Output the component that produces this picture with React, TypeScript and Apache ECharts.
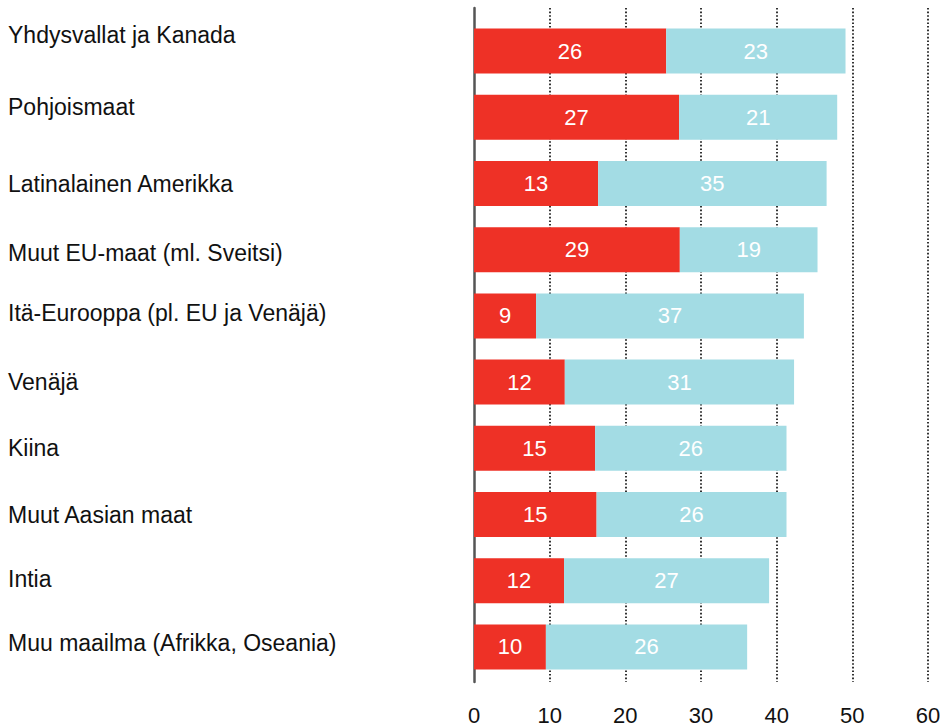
import React, { useEffect, useRef } from "react";
import * as echarts from "echarts";

// Categories (top to bottom)
const categories = [
  "Yhdysvallat ja Kanada",
  "Pohjoismaat",
  "Latinalainen Amerikka",
  "Muut EU-maat (ml. Sveitsi)",
  "Itä-Eurooppa (pl. EU ja Venäjä)",
  "Venäjä",
  "Kiina",
  "Muut Aasian maat",
  "Intia",
  "Muu maailma (Afrikka, Oseania)",
];

// Bar lengths as drawn in the picture
const redBars = [25.4, 27.1, 16.4, 27.2, 8.2, 12.0, 16.0, 16.2, 11.9, 9.5];
const blueBars = [23.7, 20.9, 30.2, 18.2, 35.4, 30.3, 25.3, 25.1, 27.1, 26.6];

// Numbers printed on the bars
const redLabels = [26, 27, 13, 29, 9, 12, 15, 15, 12, 10];
const blueLabels = [23, 21, 35, 19, 37, 31, 26, 26, 27, 26];

// Axis ticks
const xMin = 0;
const xMax = 60;
const xStep = 10;

// Style: vertical nudge (px, positive = up) of each category label
const labelNudge = [16, 10, 0, -3, 3, 0, 0, 0, 2, 4];

const FONT = "'Liberation Sans', Arial, Helvetica, sans-serif";
const RED = "#EE3126";
const BLUE = "#A3DCE4";

export default function App() {
  const ref = useRef<HTMLDivElement>(null);

  useEffect(() => {
    if (!ref.current) return;
    const chart = echarts.init(ref.current, null, { renderer: "svg" });

    const rich: Record<string, any> = {};
    labelNudge.forEach((n, i) => {
      rich["r" + i] = {
        fontSize: 23,
        fontFamily: FONT,
        color: "#111",
        padding: n >= 0 ? [0, 0, 2 * n, 0] : [-2 * n, 0, 0, 0],
      };
    });

    chart.setOption({
      animation: false,
      backgroundColor: "#ffffff",
      grid: [
        {
          left: 474,
          right: 15,
          top: 18,
          height: 662,
          containLabel: false,
          outerBoundsMode: "none",
        },
        {
          left: 474,
          right: 15,
          top: 8,
          height: 674,
          containLabel: false,
          outerBoundsMode: "none",
        },
      ],
      xAxis: [
        {
          type: "value",
          gridIndex: 0,
          min: xMin,
          max: xMax,
          interval: xStep,
          show: false,
        },
        {
          type: "value",
          gridIndex: 1,
          min: xMin,
          max: xMax,
          interval: xStep,
          position: "bottom",
          axisLine: { show: false },
          axisTick: { show: false },
          axisLabel: {
            show: true,
            margin: 22,
            color: "#111",
            fontSize: 22,
            fontFamily: FONT,
          },
          splitLine: {
            show: true,
            showMinLine: false,
            lineStyle: { color: "#000", width: 1.6, type: [1.6, 2] },
          },
        },
      ],
      yAxis: [
        {
          type: "category",
          gridIndex: 0,
          inverse: true,
          data: categories,
          axisLine: { show: false },
          axisTick: { show: false },
          splitLine: { show: false },
          axisLabel: {
            show: true,
            align: "left",
            margin: 466,
            color: "#111",
            fontSize: 23,
            fontFamily: FONT,
            formatter: (v: string, i: number) => `{r${i}|${v}}`,
            rich,
          },
        },
        {
          type: "value",
          gridIndex: 1,
          min: 0,
          max: 1,
          axisLine: { show: true, lineStyle: { color: "#555", width: 2.5 } },
          axisTick: { show: false },
          axisLabel: { show: false },
          splitLine: { show: false },
        },
      ],
      series: [
        {
          type: "bar",
          name: "red",
          xAxisIndex: 0,
          yAxisIndex: 0,
          stack: "total",
          barWidth: 45,
          data: redBars,
          itemStyle: { color: RED },
          label: {
            show: true,
            position: "inside",
            color: "#fff",
            fontSize: 22,
            fontFamily: FONT,
            formatter: (p: any) => String(redLabels[p.dataIndex]),
          },
        },
        {
          type: "bar",
          name: "blue",
          xAxisIndex: 0,
          yAxisIndex: 0,
          stack: "total",
          barWidth: 45,
          data: blueBars,
          itemStyle: { color: BLUE },
          label: {
            show: true,
            position: "inside",
            color: "#fff",
            fontSize: 22,
            fontFamily: FONT,
            formatter: (p: any) => String(blueLabels[p.dataIndex]),
          },
        },
      ],
    });

    return () => chart.dispose();
  }, []);

  return (
    <div
      ref={ref}
      style={{ position: "fixed", left: 0, top: 0, width: 943, height: 726 }}
    />
  );
}
